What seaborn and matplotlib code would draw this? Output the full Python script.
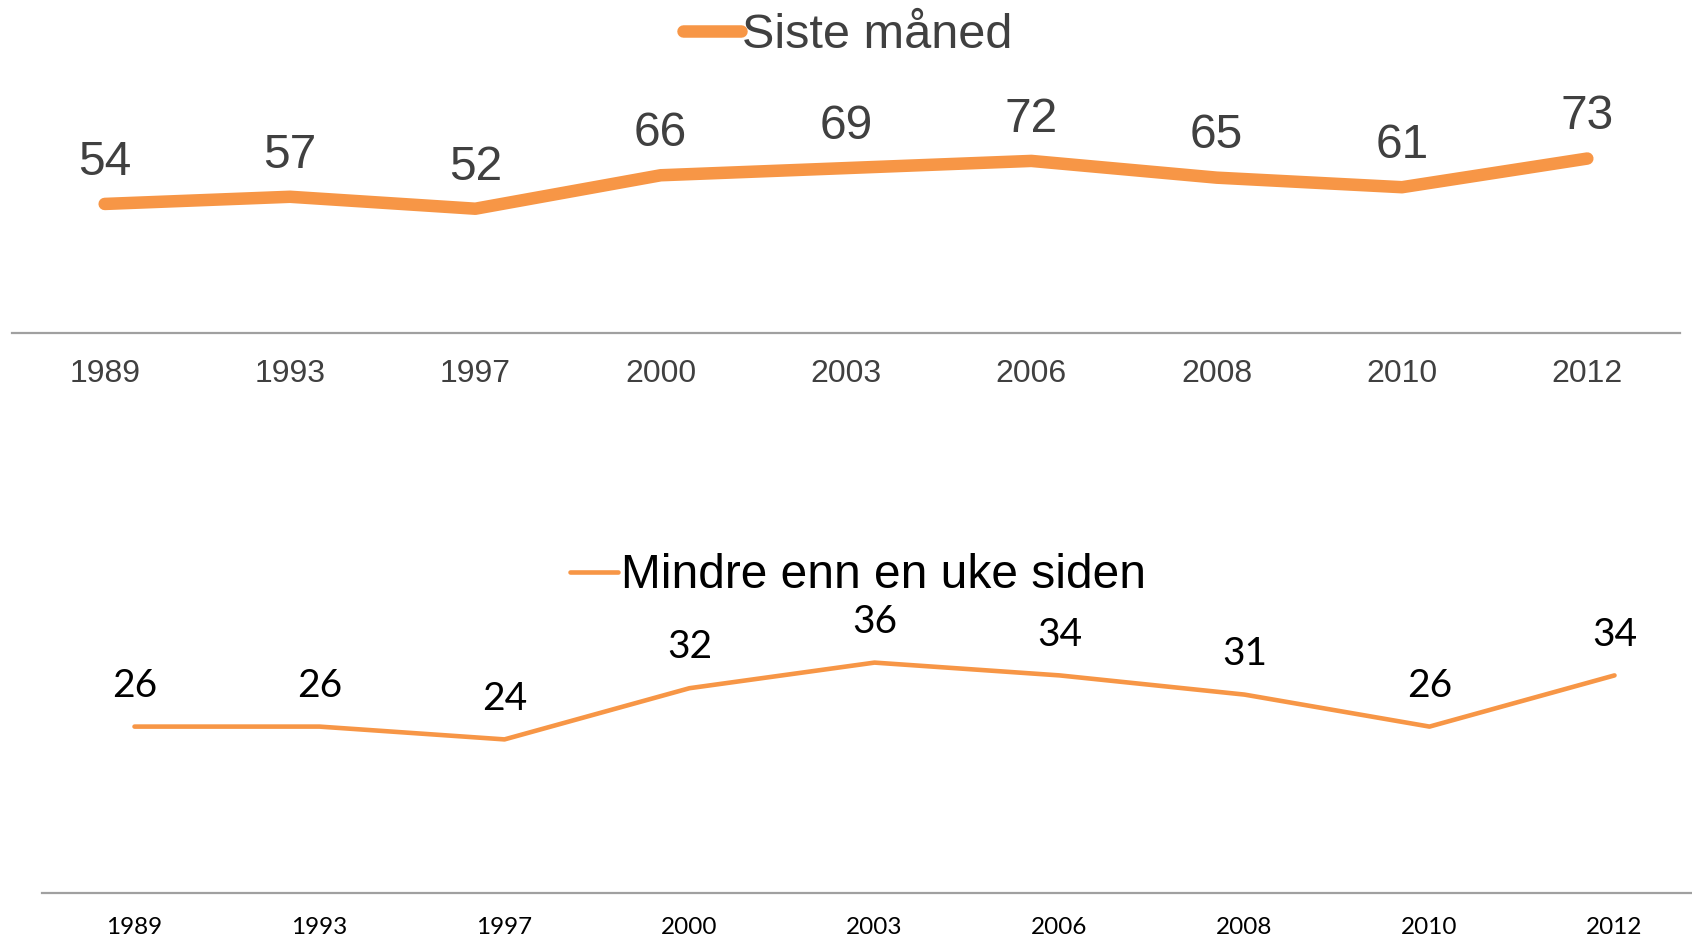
import matplotlib
matplotlib.use("Agg")
import matplotlib.pyplot as plt
import seaborn as sns
import pandas as pd

years = ["1989", "1993", "1997", "2000", "2003", "2006", "2008", "2010", "2012"]
siste_maned = [54, 57, 52, 66, 69, 72, 65, 61, 73]
mindre_enn_uke = [26, 26, 24, 32, 36, 34, 31, 26, 34]

label_top = "Siste måned"
label_bottom = "Mindre enn en uke siden"

ORANGE = "#F79646"
DARK = "#404040"
AXIS_GRAY = "#A0A0A0"

sns.set_theme(style="white")
plt.rcParams["font.family"] = ["Liberation Sans", "DejaVu Sans"]

W, H = 1692, 939
fig = plt.figure(figsize=(W / 100, H / 100), dpi=100)

def px_axes(left, bottom_px, width, height):
    return fig.add_axes([left / W, 1 - bottom_px / H, width / W, height / H])

ax1 = px_axes(12, 333, 1668, 239)
ax2 = px_axes(42, 893, 1665, 256)

df1 = pd.DataFrame({"year": years, "value": siste_maned})
df2 = pd.DataFrame({"year": years, "value": mindre_enn_uke})

sns.lineplot(data=df1, x="year", y="value", ax=ax1, color=ORANGE, linewidth=9,
             sort=False, label=label_top, solid_capstyle="round", solid_joinstyle="round")
sns.lineplot(data=df2, x="year", y="value", ax=ax2, color=ORANGE, linewidth=3.3,
             sort=False, label=label_bottom, solid_capstyle="round", solid_joinstyle="round")

def style_axis(ax, ymax, tick_font, tick_size, tick_color, pad):
    ax.set_xlim(-0.5, len(years) - 0.5)
    ax.set_ylim(0, ymax)
    ax.set_xlabel("")
    ax.set_ylabel("")
    ax.set_yticks([])
    for side in ("top", "left", "right"):
        ax.spines[side].set_visible(False)
    ax.spines["bottom"].set_color(AXIS_GRAY)
    ax.spines["bottom"].set_linewidth(1.6)
    ax.set_xticks(range(len(years)))
    ax.set_xticklabels(years, fontfamily=tick_font, fontsize=tick_size, color=tick_color)
    ax.tick_params(axis="x", length=0, pad=pad)
    ax.patch.set_alpha(0)

style_axis(ax1, 100, "Liberation Sans", 23, DARK, 19)
style_axis(ax2, 40, "Lato", 17.5, "black", 17.5)

# value labels above each point
for i, v in enumerate(siste_maned):
    ax1.annotate(str(v), (i, v), xytext=(0, 21), textcoords="offset points",
                 ha="center", va="baseline", fontsize=34.5, color=DARK,
                 family=["Liberation Sans"], annotation_clip=False)
for i, v in enumerate(mindre_enn_uke):
    ax2.annotate(str(v), (i, v), xytext=(0, 21.5), textcoords="offset points",
                 ha="center", va="baseline", fontsize=28, color="black",
                 family=["Lato", "DejaVu Sans"], annotation_clip=False)

leg1 = ax1.legend(loc="center", bbox_to_anchor=(848 / W, 1 - 36 / H),
                  bbox_transform=fig.transFigure, frameon=False,
                  handlelength=1.2, handletextpad=0.02, borderpad=0,
                  prop={"family": "Liberation Sans", "size": 35})
for t in leg1.get_texts():
    t.set_color(DARK)

leg2 = ax2.legend(loc="center", bbox_to_anchor=(858 / W, 1 - 576 / H),
                  bbox_transform=fig.transFigure, frameon=False,
                  handlelength=1.0, handletextpad=0.05, borderpad=0,
                  prop={"family": "Liberation Sans", "size": 34.5})
for t in leg2.get_texts():
    t.set_color("black")

fig.savefig("out.png", dpi=100, facecolor="white")
